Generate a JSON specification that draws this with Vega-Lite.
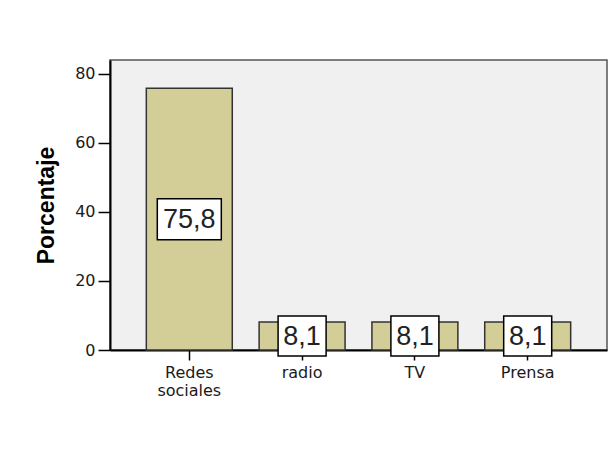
{
  "$schema": "https://vega.github.io/schema/vega-lite/v6.json",
  "width": 497,
  "height": 290,
  "autosize": {"type": "none"},
  "padding": {"left": 110, "top": 60, "right": 2, "bottom": 112},
  "background": "white",
  "data": {"values": [
    {"medio": "Redes sociales", "porcentaje": 75.8},
    {"medio": "radio", "porcentaje": 8.1},
    {"medio": "TV", "porcentaje": 8.1},
    {"medio": "Prensa", "porcentaje": 8.1}
  ]},
  "config": {
    "locale": {"number": {"decimal": ",", "thousands": ".", "grouping": [3], "currency": ["", " €"]}},
    "view": {"fill": "#F0F0F0", "stroke": "#555555", "strokeWidth": 1.5},
    "font": "DejaVu Sans"
  },
  "encoding": {
    "x": {
      "field": "medio",
      "type": "nominal",
      "sort": null,
      "scale": {"paddingInner": 0.238, "paddingOuter": 0.322},
      "axis": {
        "title": null,
        "labelExpr": "split(datum.label, ' ')",
        "labelAngle": 0,
        "labelBaseline": "top",
        "labelLineHeight": 18,
        "labelFont": "DejaVu Sans",
        "labelFontSize": 16,
        "labelColor": "#1a1a1a",
        "labelPadding": 4,
        "domainColor": "#000000",
        "domainWidth": 2,
        "tickColor": "#000000",
        "tickSize": 10,
        "tickWidth": 1.5
      }
    }
  },
  "layer": [
    {
      "mark": {"type": "bar", "fill": "#D3CE97", "stroke": "#333333", "strokeWidth": 1.5},
      "encoding": {
        "y": {
          "field": "porcentaje",
          "type": "quantitative",
          "scale": {"domain": [0, 84], "nice": false},
          "axis": {
            "title": "Porcentaje",
            "titleFont": "Liberation Sans",
            "titleFontSize": 23,
            "titleFontWeight": "bold",
            "titleColor": "#000000",
            "titlePadding": 16,
            "values": [0, 20, 40, 60, 80],
            "grid": false,
            "labelFont": "DejaVu Sans",
            "labelFontSize": 16,
            "labelColor": "#1a1a1a",
            "labelPadding": 3,
            "domainColor": "#000000",
            "domainWidth": 2,
            "tickColor": "#000000",
            "tickSize": 12,
            "tickWidth": 1.5
          }
        }
      }
    },
    {
      "encoding": {
        "y": {
          "field": "porcentaje",
          "type": "quantitative",
          "scale": {"domain": [0, 168], "nice": false},
          "axis": null
        }
      },
      "layer": [
        {
          "mark": {"type": "point", "filled": true, "fill": "white", "stroke": "black", "strokeWidth": 1.5, "opacity": 1, "size": 1681},
          "encoding": {
            "shape": {
              "field": "medio",
              "type": "nominal",
              "scale": {
                "domain": ["Redes sociales", "radio", "TV", "Prensa"],
                "range": [
                  "M-1.561,-1L1.561,-1L1.561,1L-1.561,1Z",
                  "M-1.171,-0.976L1.171,-0.976L1.171,0.976L-1.171,0.976Z",
                  "M-1.171,-0.976L1.171,-0.976L1.171,0.976L-1.171,0.976Z",
                  "M-1.171,-0.976L1.171,-0.976L1.171,0.976L-1.171,0.976Z"
                ]
              },
              "legend": null
            }
          }
        },
        {
          "mark": {"type": "text", "font": "Liberation Sans", "fontSize": 27, "color": "#222222", "baseline": "middle", "align": "center", "dy": 1},
          "encoding": {
            "text": {"field": "porcentaje", "type": "quantitative", "format": ".1f"}
          }
        }
      ]
    }
  ],
  "resolve": {"scale": {"y": "independent"}}
}
